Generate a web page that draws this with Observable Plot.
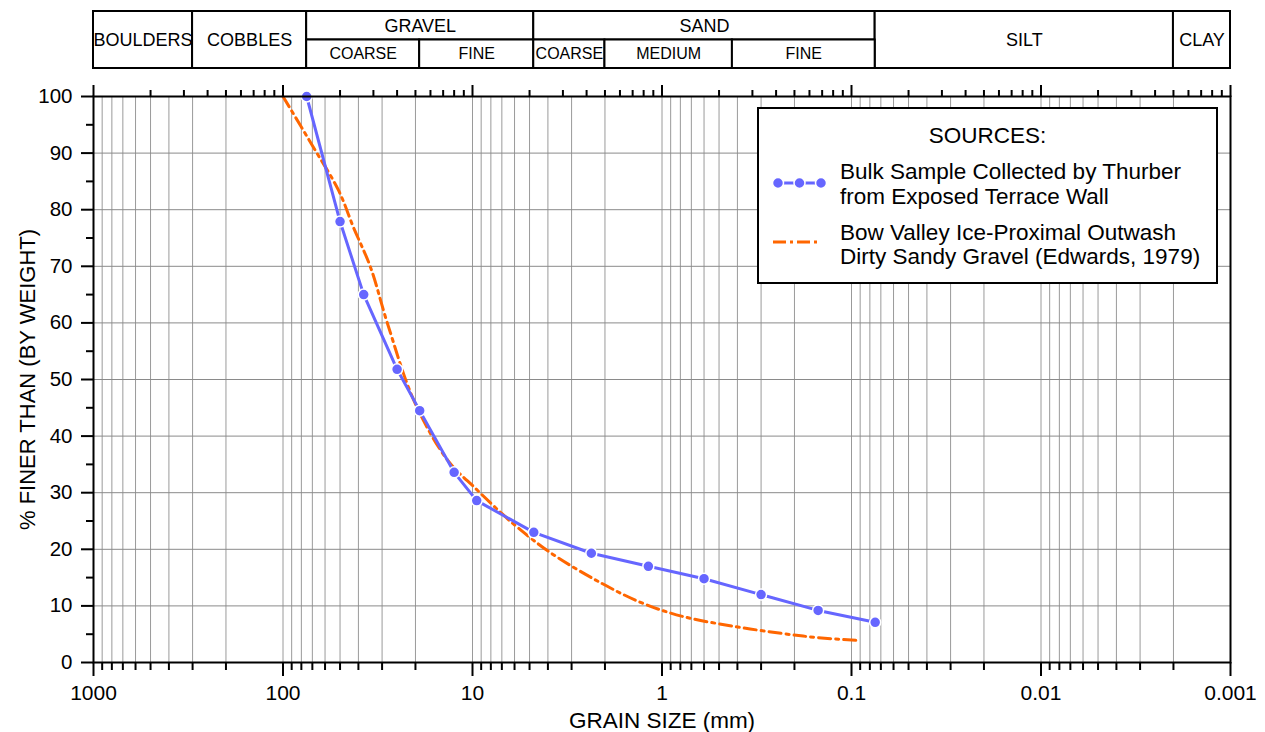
<!DOCTYPE html>
<html><head><meta charset="utf-8">
<script src="https://cdn.jsdelivr.net/npm/d3@7"></script>
<script src="https://cdn.jsdelivr.net/npm/@observablehq/plot@0.6"></script>
<style>
body{margin:0;background:#fff;font-family:"Liberation Sans",Arial,sans-serif;}
#chart{position:relative;width:1265px;height:732px;overflow:hidden;background:#fff}
#chart svg{display:block}
</style></head><body><div id="chart"></div>
<script>
// ---- soil classification header ----
const classNames = ["BOULDERS","COBBLES","GRAVEL","SAND","SILT","CLAY"];
const classFrom  = [1000, 300, 75, 4.75, 0.075, 0.002];
const classTo    = [300, 75, 4.75, 0.075, 0.002, 0.001];
const classRow   = ["full","full","top","top","full","full"];
const subNames = ["COARSE","FINE","COARSE","MEDIUM","FINE"];
const subFrom  = [75, 19, 4.75, 2, 0.425];
const subTo    = [19, 4.75, 2, 0.425, 0.075];

// ---- series ----
const sampleSize = [75, 50, 37.5, 25, 19, 12.5, 9.5, 4.75, 2.36, 1.18, 0.6, 0.3, 0.15, 0.075];
const samplePct  = [100, 77.9, 65.0, 51.8, 44.5, 33.6, 28.6, 23.0, 19.3, 17.0, 14.8, 12.0, 9.2, 7.1];
const edwardsSize = [100, 69, 50.9, 42.5, 34.5, 28.1, 20.2, 13.5, 9.6, 7.1, 5.8, 3.88, 2.11, 1.25, 0.77, 0.42, 0.229, 0.151, 0.093];
const edwardsPct  = [100, 91, 83.4, 76.9, 69.8, 59.9, 46, 35.7, 30.7, 26.5, 23.9, 19.4, 14.1, 10.4, 8.1, 6.4, 5.1, 4.4, 3.9];
const seriesNames = [
  ["Bulk Sample Collected by Thurber", "from Exposed Terrace Wall"],
  ["Bow Valley Ice-Proximal Outwash", "Dirty Sandy Gravel (Edwards, 1979)"]
];
const legendTitle = "SOURCES:";

// ---- ticks ----
const xMajorTicks = [1000, 100, 10, 1, 0.1, 0.01, 0.001];
const xTickLabels = ["1000", "100", "10", "1", "0.1", "0.01", "0.001"];
const yMajorTicks = [0,10,20,30,40,50,60,70,80,90,100];
const yMinorTicks = [5,15,25,35,45,55,65,75,85,95];
const xLabel = "GRAIN SIZE (mm)";
const yLabel = "% FINER THAN (BY WEIGHT)";

const FONT = '"Liberation Sans", Arial, Helvetica, sans-serif';
const decades = [-3,-2,-1,0,1,2];
const multipliers = [2,3,4,5,6,7,8,9];
const xMinorTicks = decades.flatMap(d => multipliers.map(k => +(k * Math.pow(10, d)).toPrecision(6)));
const xGrid = xMinorTicks.concat(xMajorTicks.slice(1, -1));
const xTopMinor = decades.flatMap(d => multipliers.map(k => Math.pow(10, d + 1) / k));

const sample = sampleSize.map((s, i) => ({size: s, pct: samplePct[i]}));
const edwards = edwardsSize.map((s, i) => ({size: s, pct: edwardsPct[i]}));
const cells = classNames.map((n, i) => ({name: n, x1: classFrom[i], x2: classTo[i],
  y1: classRow[i] === "top" ? 1 : 0, y2: 2}));
const subs = subNames.map((n, i) => ({name: n, x1: subFrom[i], x2: subTo[i], y1: 0, y2: 1}));

const W = 1265, ML = 93, MR = 35;

const header = Plot.plot({
  width: W, height: 70, marginTop: 11, marginBottom: 2, marginLeft: ML, marginRight: MR,
  style: {fontFamily: FONT, background: "white", overflow: "visible"},
  x: {type: "log", domain: [1000, 0.001], axis: null},
  y: {domain: [0, 2], axis: null},
  marks: [
    Plot.rect(cells, {x1: "x1", x2: "x2", y1: "y1", y2: "y2", fill: "white", stroke: "black", strokeWidth: 2}),
    Plot.rect(subs, {x1: "x1", x2: "x2", y1: "y1", y2: "y2", fill: "white", stroke: "black", strokeWidth: 2}),
    Plot.text(cells, {x: d => Math.sqrt(d.x1 * d.x2), y: d => (d.y1 + d.y2) / 2, text: "name", fontSize: 18, fill: "black"}),
    Plot.text(subs, {x: d => Math.sqrt(d.x1 * d.x2), y: 0.5, text: "name", fontSize: 16, fill: "black"})
  ]
});

const noLabel = () => "";
const main = Plot.plot({
  width: W, height: 662, marginTop: 26, marginBottom: 70, marginLeft: ML, marginRight: MR,
  style: {fontFamily: FONT, background: "white", overflow: "visible", color: "black"},
  x: {type: "log", domain: [1000, 0.001]},
  y: {domain: [0, 100]},
  marks: [
    Plot.gridX(xGrid, {stroke: "#9a9a9a", strokeOpacity: 1, strokeWidth: 1}),
    Plot.gridY(yMajorTicks.slice(1, -1), {stroke: "#8a8a8a", strokeOpacity: 1, strokeWidth: 1}),
    Plot.line(edwards, {x: "size", y: "pct", stroke: "#ff6600", strokeWidth: 3, strokeDasharray: "12,5,3,5", curve: "catmull-rom"}),
    Plot.line(sample, {x: "size", y: "pct", stroke: "#6666ff", strokeWidth: 3}),
    Plot.dot(sample, {x: "size", y: "pct", r: 5.5, fill: "#6666ff", stroke: "white", strokeWidth: 1.5}),
    Plot.frame({stroke: "black", strokeWidth: 2}),
    Plot.axisX(xMinorTicks, {anchor: "bottom", tickSize: 8, tickFormat: noLabel, label: null, strokeWidth: 2}),
    Plot.axisX(xMajorTicks, {anchor: "bottom", tickSize: 14, tickPadding: 9, fontSize: 21,
      tickFormat: d => xTickLabels[xMajorTicks.indexOf(d)], label: null, strokeWidth: 2}),
    Plot.axisX(xTopMinor, {anchor: "top", tickSize: 7, tickFormat: noLabel, label: null, strokeWidth: 2}),
    Plot.axisX(xMajorTicks, {anchor: "top", tickSize: 12, tickFormat: noLabel, label: null, strokeWidth: 2}),
    Plot.axisY(yMinorTicks, {anchor: "left", tickSize: 7, tickFormat: noLabel, label: null, strokeWidth: 2}),
    Plot.axisY(yMajorTicks, {anchor: "left", tickSize: 12, tickPadding: 9, fontSize: 20.5, label: null, strokeWidth: 2}),
    Plot.text([xLabel], {frameAnchor: "bottom", lineAnchor: "middle", textAnchor: "middle", dy: 58, fontSize: 22.5, fill: "black"}),
    Plot.text([yLabel], {frameAnchor: "left", lineAnchor: "middle", textAnchor: "middle", dx: -66, rotate: -90, fontSize: 22, fill: "black"})
  ]
});

// legend box (inside plot, top-right)
const svg = d3.select(main);
const lg = svg.append("g").attr("font-family", FONT).attr("fill", "black").attr("text-anchor", "start");
const top0 = 38;
lg.append("rect").attr("x", 758).attr("y", top0).attr("width", 459).attr("height", 175)
  .attr("fill", "white").attr("stroke", "black").attr("stroke-width", 2);
lg.append("text").attr("x", 987.5).attr("y", top0 + 27).attr("text-anchor", "middle")
  .attr("dy", "0.35em").attr("font-size", 22.5).text(legendTitle);
const lineYs = [[top0 + 63, top0 + 88], [top0 + 124, top0 + 148]];
seriesNames.forEach((lines, i) => {
  lines.forEach((t, j) => {
    lg.append("text").attr("x", 840).attr("y", lineYs[i][j]).attr("dy", "0.35em")
      .attr("text-anchor", "start").attr("font-size", 22.5).text(t);
  });
});
const sy = top0 + 75;
lg.append("line").attr("x1", 778).attr("x2", 821).attr("y1", sy).attr("y2", sy)
  .attr("stroke", "#6666ff").attr("stroke-width", 3);
[778, 799.5, 821].forEach(cx => lg.append("circle").attr("cx", cx).attr("cy", sy).attr("r", 5.5)
  .attr("fill", "#6666ff").attr("stroke", "white").attr("stroke-width", 1.5));
const oy = top0 + 134;
lg.append("line").attr("x1", 773).attr("x2", 819).attr("y1", oy).attr("y2", oy)
  .attr("stroke", "#ff6600").attr("stroke-width", 3).attr("stroke-dasharray", "13,4,3,4");

const chart = document.getElementById("chart");
chart.appendChild(header);
chart.appendChild(main);
</script></body></html>
